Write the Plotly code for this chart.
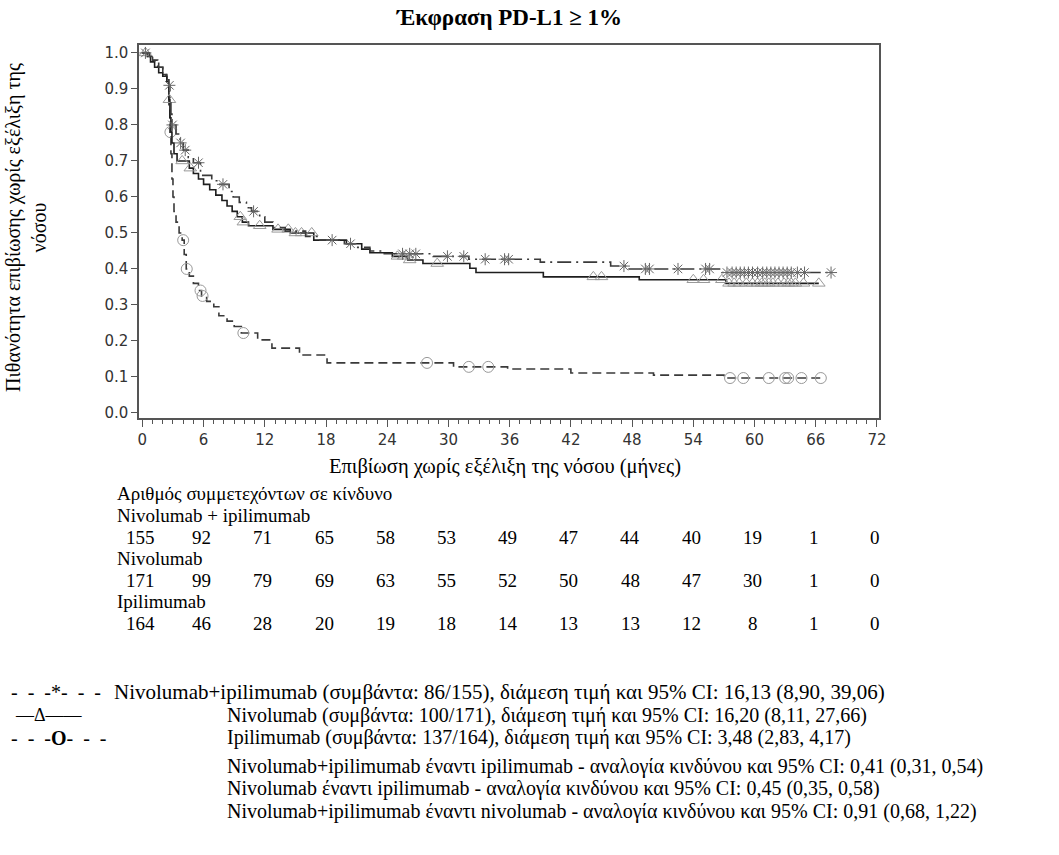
import plotly.graph_objects as go

# ---- Kaplan-Meier progression-free survival, PD-L1 >= 1% ----
# step times (months) and survival after each step
nivo_ipi_months = [0, 0.7, 1.2, 1.6, 2.0, 2.3, 2.6, 2.7, 2.8, 2.9,
                   3.3, 3.7, 4.0, 4.5, 5.0, 5.7, 6.8, 7.5, 8.5, 8.9,
                   9.5, 10.2, 10.7, 11.5, 12.0, 12.8, 14.0, 16.0, 17.3, 19.8,
                   21.0, 22.3, 23.5, 28.5, 32.0, 39.0, 45.9, 47.5, 56.8]
nivo_ipi_surv = [1.0, 0.99, 0.975, 0.96, 0.94, 0.925, 0.91, 0.87, 0.83, 0.80,
                 0.775, 0.75, 0.73, 0.71, 0.695, 0.66, 0.645, 0.635, 0.615, 0.60,
                 0.585, 0.57, 0.56, 0.545, 0.53, 0.515, 0.505, 0.49, 0.48, 0.47,
                 0.46, 0.45, 0.442, 0.435, 0.427, 0.419, 0.408, 0.40, 0.39]
nivo_ipi_censor = [0.3, 2.65, 2.95, 3.75, 4.2, 5.5, 7.9, 10.9, 18.6, 20.4, 25.5, 26.2,
                   26.8, 29.9, 31.5, 33.6, 35.5, 35.9, 47.2, 49.3, 49.7, 52.5, 55.2,
                   55.6, 57.3, 57.8, 58.2, 58.6, 59.0, 59.4, 59.8, 60.3, 60.8, 61.2,
                   61.6, 62.0, 62.4, 62.8, 63.2, 63.6, 64.2, 64.9, 67.5]

nivo_months = [0, 0.5, 0.8, 1.2, 1.6, 2.0, 2.4, 2.6, 2.7, 2.8,
               2.9, 3.1, 3.4, 4.6, 5.0, 5.5, 6.0, 6.6, 7.2, 7.8,
               8.3, 8.8, 9.3, 9.8, 10.4, 12.8, 14.5, 16.8, 20.0, 21.5,
               22.3, 24.5, 26.0, 27.5, 32.1, 32.7, 39.3, 48.7, 57.2]
nivo_surv = [1.0, 0.99, 0.975, 0.96, 0.945, 0.935, 0.92, 0.87, 0.82, 0.78,
             0.75, 0.72, 0.70, 0.68, 0.665, 0.65, 0.635, 0.62, 0.605, 0.59,
             0.575, 0.56, 0.545, 0.53, 0.52, 0.51, 0.50, 0.48, 0.47, 0.455,
             0.445, 0.435, 0.425, 0.415, 0.402, 0.39, 0.378, 0.37, 0.36]
nivo_censor = [0.3, 2.65, 3.9, 4.7, 9.6, 9.9, 11.5, 13.3, 14.3, 15.0, 15.6, 16.6,
               25.0, 25.6, 26.2, 28.9, 44.2, 45.0, 54.0, 55.0, 56.8, 57.5, 58.0,
               58.5, 59.2, 59.8, 60.3, 60.7, 61.0, 61.4, 61.8, 62.3, 62.9, 63.3,
               63.6, 64.0, 64.8, 66.3]

ipi_months = [0, 0.5, 1.0, 1.5, 2.0, 2.4, 2.6, 2.7, 2.8, 2.9,
              3.0, 3.1, 3.3, 3.6, 3.9, 4.1, 4.3, 4.6, 5.0, 5.5,
              5.8, 6.3, 7.0, 7.5, 8.3, 9.0, 9.7, 11.3, 12.7, 15.4,
              18.1, 30.5, 35.8, 42.0, 50.1, 57.0]
ipi_surv = [1.0, 0.99, 0.98, 0.96, 0.94, 0.92, 0.85, 0.78, 0.72, 0.65,
            0.60, 0.56, 0.53, 0.50, 0.48, 0.44, 0.40, 0.38, 0.36, 0.34,
            0.325, 0.31, 0.295, 0.27, 0.255, 0.24, 0.222, 0.203, 0.18, 0.161,
            0.139, 0.128, 0.122, 0.111, 0.105, 0.097]
ipi_censor = [2.75, 4.0, 4.35, 5.7, 5.9, 9.9, 27.9, 32.0, 33.9, 57.6, 58.9,
              61.4, 63.0, 63.3, 64.6, 66.5]

# ---- number at risk ----
risk_months = [0, 6, 12, 18, 24, 30, 36, 42, 48, 54, 60, 66, 72]
risk_nivo_ipi = [155, 92, 71, 65, 58, 53, 49, 47, 44, 40, 19, 1, 0]
risk_nivo = [171, 99, 79, 69, 63, 55, 52, 50, 48, 47, 30, 1, 0]
risk_ipi = [164, 46, 28, 20, 19, 18, 14, 13, 13, 12, 8, 1, 0]

x_ticks = list(range(0, 73, 6))
y_ticks = [i / 10 for i in range(11)]

title_text = "<b>Έκφραση PD-L1 ≥ 1%</b>"
x_title = "Επιβίωση χωρίς εξέλιξη της νόσου (μήνες)"
y_title = "Πιθανότητα επιβίωσης χωρίς εξέλιξη της<br>νόσου"
risk_header = "Αριθμός συμμετεχόντων σε κίνδυνο"
risk_labels = ["Nivolumab + ipilimumab", "Nivolumab", "Ipilimumab"]
EN = "\u2002"
legend_keys = [EN.join(["-", "-", "-*-", "-", "-"]), "—Δ——",
               EN.join(["-", "-", "-<b>O</b>-", "-", "-"])]
legend_lines = [
    "Nivolumab+ipilimumab (συμβάντα: 86/155), διάμεση τιμή και 95% CI: 16,13 (8,90, 39,06)",
    "Nivolumab (συμβάντα: 100/171), διάμεση τιμή και 95% CI: 16,20 (8,11, 27,66)",
    "Ipilimumab (συμβάντα: 137/164), διάμεση τιμή και 95% CI: 3,48 (2,83, 4,17)",
]
hr_lines = [
    "Nivolumab+ipilimumab έναντι ipilimumab - αναλογία κινδύνου και 95% CI: 0,41 (0,31, 0,54)",
    "Nivolumab έναντι ipilimumab - αναλογία κινδύνου και 95% CI: 0,45 (0,35, 0,58)",
    "Nivolumab+ipilimumab έναντι nivolumab - αναλογία κινδύνου και 95% CI: 0,91 (0,68, 1,22)",
]

SERIF = "Liberation Serif, Times New Roman, serif"
SANS = "DejaVu Sans"

# ---- page geometry (pixels) ----
W, H = 1059, 855
L, R, T, B = 139, 879, 45, 418
PW, PH = R - L, B - T


def px(x):
    return (x - L) / PW


def py(y):
    return (B - y) / PH


def surv_at(months, surv, t):
    s = surv[0]
    for m, v in zip(months, surv):
        if m <= t:
            s = v
    return s


def km_traces(months, surv, censor, dash, line_color, symbol, mcolor, msize):
    end = max(censor)
    xs = list(months) + [end]
    ys = list(surv) + [surv[-1]]
    line = go.Scatter(x=xs, y=ys, mode="lines", line_shape="hv",
                      line=dict(color=line_color, width=1.6, dash=dash),
                      hoverinfo="skip", showlegend=False)
    marks = go.Scatter(x=censor, y=[surv_at(months, surv, c) for c in censor],
                       mode="markers",
                       marker=dict(symbol=symbol, size=msize, color=mcolor,
                                   line=dict(color=mcolor, width=1)),
                       hoverinfo="skip", showlegend=False)
    return [line, marks]


fig = go.Figure()
for tr in km_traces(ipi_months, ipi_surv, ipi_censor, "9px,5px", "#3a3a3a",
                    "circle-open", "#999999", 11):
    fig.add_trace(tr)
for tr in km_traces(nivo_months, nivo_surv, nivo_censor, "solid", "#1e1e1e",
                    "triangle-up-open", "#999999", 11):
    fig.add_trace(tr)
for tr in km_traces(nivo_ipi_months, nivo_ipi_surv, nivo_ipi_censor,
                    "14px,5px,2px,5px", "#3a3a3a", "asterisk-open", "#666666", 10):
    fig.add_trace(tr)


def note(text, x, y, size, anchor="left", xref="paper", xshift=0, angle=0):
    return dict(text=text, x=x, y=y, xref=xref, yref="paper", showarrow=False,
                xanchor=anchor, yanchor="middle", xshift=xshift, textangle=angle,
                borderpad=0,
                font=dict(family=SERIF, size=size, color="black"))


ann = [
    note(title_text, px(509), py(18), 23, anchor="center"),
    note(x_title, px(505), py(466), 20.5, anchor="center"),
    note(y_title, px(26), py(228), 20, anchor="center", angle=-90),
    note(risk_header, px(116), py(494), 19),
]

# number-at-risk table
row_y = [(515.5, 537), (558.5, 580), (601.5, 623)]
for label, counts, (ly, ny) in zip(risk_labels, [risk_nivo_ipi, risk_nivo, risk_ipi], row_y):
    ann.append(note(label, px(116), py(ly), 19))
    for m, n in zip(risk_months, counts):
        ann.append(note(str(n), m, py(ny), 19, anchor="center", xref="x", xshift=-2))

# legend block
key_x = [10, 14, 10]
key_size = [20, 18, 20]
leg_y = [692, 715, 737.5]
text_x = [113, 226, 226]
text_size = [21, 20, 20]
for k, t, kx, ks, tx, ts, yy in zip(legend_keys, legend_lines, key_x, key_size,
                                     text_x, text_size, leg_y):
    ann.append(note(k, px(kx), py(yy), ks))
    ann.append(note(t, px(tx), py(yy), ts))
for t, yy in zip(hr_lines, [766, 788.5, 811]):
    ann.append(note(t, px(226), py(yy), 20))

axis_color = "#555555"
fig.update_layout(
    width=W, height=H,
    margin=dict(l=L, r=W - R, t=T, b=H - B, pad=0),
    paper_bgcolor="white", plot_bgcolor="white",
    showlegend=False,
    annotations=ann,
    xaxis=dict(range=[-0.33, 72.2], tickvals=x_ticks, ticks="outside", ticklen=7,
               tickwidth=1.3, tickcolor=axis_color,
               showline=True, linecolor=axis_color, linewidth=1.5, mirror=True,
               showgrid=False, zeroline=False,
               tickfont=dict(family=SANS, size=15, color="#333333"),
               minor=dict(dtick=1, tick0=0, ticks="outside", ticklen=4,
                          tickcolor=axis_color, tickwidth=1, showgrid=False)),
    yaxis=dict(range=[-0.014, 1.022], tickvals=y_ticks, tickformat=".1f",
               ticks="outside", ticklen=6, tickwidth=1.3, tickcolor=axis_color,
               showline=True, linecolor=axis_color, linewidth=1.5, mirror=True,
               showgrid=False, zeroline=False,
               tickfont=dict(family=SANS, size=15, color="#333333")),
)

fig.write_html("out.html")
